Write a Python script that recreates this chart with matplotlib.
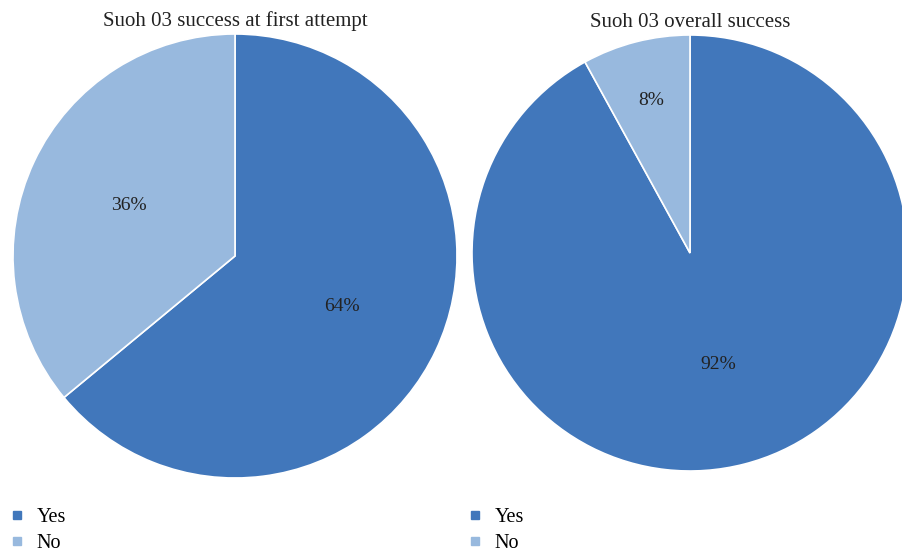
import matplotlib
matplotlib.use("Agg")
import matplotlib.pyplot as plt
from matplotlib.lines import Line2D

# data
labels = ["Yes", "No"]
first_attempt = [64, 36]
overall = [92, 8]
titles = ["Suoh 03 success at first attempt", "Suoh 03 overall success"]
colors = ["#4177bb", "#98b9de"]

plt.rcParams['font.family'] = ['Liberation Serif', 'DejaVu Serif']

W, H = 902, 553
fig = plt.figure(figsize=(W / 100, H / 100), dpi=100)


def px_axes(cx, cy, r):
    # axes square around a pie centre given in pixels (top-left origin)
    return fig.add_axes([(cx - r) / W, (H - cy - r) / H, 2 * r / W, 2 * r / H])


def draw_pie(ax, values, title, small_dist, title_pad):
    wedges, texts, pcts = ax.pie(values, colors=colors, startangle=90, counterclock=False,
                                 autopct='%d%%', pctdistance=0.53,
                                 wedgeprops=dict(edgecolor='white', linewidth=1.2),
                                 textprops=dict(fontsize=14, color='#222222'))
    # push the label of a thin slice further out
    for v, t in zip(values, pcts):
        if v < 15:
            x, y = t.get_position()
            t.set_position((x * small_dist / 0.53, y * small_dist / 0.53))
    ax.set_xlim(-1, 1)
    ax.set_ylim(-1, 1)
    ax.set_aspect('equal')
    ax.set_title(title, fontsize=15, color='#222222', pad=title_pad)
    return wedges


ax1 = px_axes(235, 256, 222)
draw_pie(ax1, first_attempt, titles[0], 0.53, 6)

ax2 = px_axes(690, 253, 218)
draw_pie(ax2, overall, titles[1], 0.72, 6)

handles = [Line2D([], [], marker='s', linestyle='none', markersize=6,
                  markerfacecolor=c, markeredgecolor=c) for c in colors]

for x in [1, 459]:
    fig.legend(handles, labels, loc='upper left', bbox_to_anchor=(x / W, 1 - 500 / H),
               frameon=False, fontsize=14.5, handlelength=0.8, handletextpad=0.55,
               labelspacing=0.36, borderaxespad=0)

fig.savefig("out.png", dpi=100)
